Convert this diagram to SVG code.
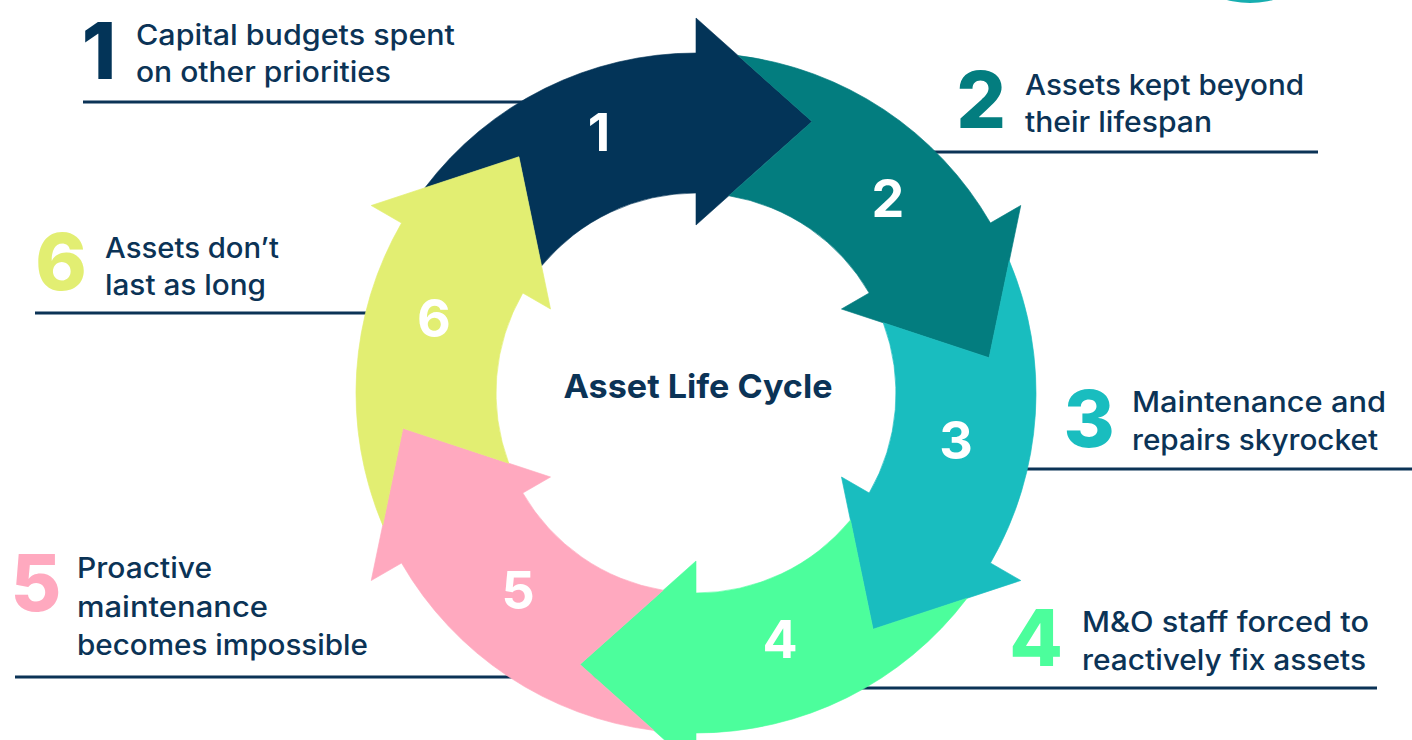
<svg xmlns="http://www.w3.org/2000/svg" xmlns:xlink="http://www.w3.org/1999/xlink" width="1412" height="740" viewBox="0 0 1412 740">
  <style>
    .lbl { font-family: Inter, "Open Sans", "Liberation Sans", sans-serif; font-size: 28px; font-weight: 500; fill: #0B3356; }
    .big { font-family: Inter, "Open Sans", "Liberation Sans", sans-serif; font-size: 78px; font-weight: 800; text-anchor: middle; }
    .num { font-family: Inter, "Open Sans", "Liberation Sans", sans-serif; font-size: 52px; font-weight: 700; fill: #FFFFFF; text-anchor: middle; }
    .title { font-family: Inter, "Open Sans", "Liberation Sans", sans-serif; font-size: 33px; font-weight: 700; fill: #0B3356; text-anchor: middle; }
    .lead { stroke: #0B3356; stroke-width: 3; fill: none; }
    .arrow { stroke-width: 0.6; stroke-linejoin: miter; }
  </style>
  <defs>
    <path id="arrowShape" d="M -271.09 -205.21 A 340 340 0 0 1 0 -340 L 0 -375 L 116 -271.5 L 0 -168 L 0 -200 A 200 200 0 0 0 -154.44 -127.06 L -177.03 -236.21 Z"/>
  </defs>
  <rect width="1412" height="740" fill="#FFFFFF"/>
  <circle cx="1250" cy="-87" r="90" fill="#17AEB0"/>

  <g id="connectors">
    <line class="lead" x1="83" y1="102" x2="600" y2="102"/>
    <line class="lead" x1="900" y1="152" x2="1318" y2="152"/>
    <line class="lead" x1="950" y1="469" x2="1412" y2="469"/>
    <line class="lead" x1="800" y1="688" x2="1377" y2="688"/>
    <line class="lead" x1="15" y1="677" x2="600" y2="677"/>
    <line class="lead" x1="35" y1="313" x2="420" y2="313"/>
  </g>

  <g id="step1">
    <use xlink:href="#arrowShape" class="arrow" fill="#033458" stroke="#033458" transform="translate(696 393) rotate(0)"/>
    <text class="num" x="599" y="151">1</text>
  </g>
  <g id="step2">
    <use xlink:href="#arrowShape" class="arrow" fill="#037D7F" stroke="#037D7F" transform="translate(696 393) rotate(60)"/>
    <text class="num" x="888" y="217">2</text>
  </g>
  <g id="step3">
    <use xlink:href="#arrowShape" class="arrow" fill="#19BDBF" stroke="#19BDBF" transform="translate(696 393) rotate(120)"/>
    <text class="num" x="956" y="459">3</text>
  </g>
  <g id="step4">
    <use xlink:href="#arrowShape" class="arrow" fill="#4CFE9C" stroke="#4CFE9C" transform="translate(696 393) rotate(180)"/>
    <text class="num" x="780" y="658">4</text>
  </g>
  <g id="step5">
    <use xlink:href="#arrowShape" class="arrow" fill="#FFA9BF" stroke="#FFA9BF" transform="translate(696 393) rotate(240)"/>
    <text class="num" x="518" y="609">5</text>
  </g>
  <g id="step6">
    <use xlink:href="#arrowShape" class="arrow" fill="#E2EE72" stroke="#E2EE72" transform="translate(696 393) rotate(300)"/>
    <text class="num" x="434" y="337">6</text>
  </g>

  <g id="center">
    <text class="title" x="698" y="398" textLength="269" lengthAdjust="spacingAndGlyphs">Asset Life Cycle</text>
  </g>

  <g id="label1">
    <text class="big" x="99" y="79" fill="#033458">1</text>
    <text class="lbl" x="136" y="45" textLength="319" lengthAdjust="spacingAndGlyphs">Capital budgets spent</text>
    <text class="lbl" x="136" y="82" textLength="255" lengthAdjust="spacingAndGlyphs">on other priorities</text>
  </g>
  <g id="label2">
    <text class="big" x="981" y="128" fill="#037D7F">2</text>
    <text class="lbl" x="1025" y="95" textLength="279" lengthAdjust="spacingAndGlyphs">Assets kept beyond</text>
    <text class="lbl" x="1025" y="132" textLength="187" lengthAdjust="spacingAndGlyphs">their lifespan</text>
  </g>
  <g id="label3">
    <text class="big" x="1089" y="447" fill="#19BDBF">3</text>
    <text class="lbl" x="1132" y="412" textLength="254" lengthAdjust="spacingAndGlyphs">Maintenance and</text>
    <text class="lbl" x="1132" y="450" textLength="246" lengthAdjust="spacingAndGlyphs">repairs skyrocket</text>
  </g>
  <g id="label4">
    <text class="big" x="1036" y="666" fill="#4CFE9C">4</text>
    <text class="lbl" x="1082" y="632" textLength="287" lengthAdjust="spacingAndGlyphs">M&amp;O staff forced to</text>
    <text class="lbl" x="1082" y="670" textLength="284" lengthAdjust="spacingAndGlyphs">reactively fix assets</text>
  </g>
  <g id="label5">
    <text class="big" x="36" y="611" fill="#FFA9BF">5</text>
    <text class="lbl" x="77" y="578" textLength="135" lengthAdjust="spacingAndGlyphs">Proactive</text>
    <text class="lbl" x="77" y="617" textLength="191" lengthAdjust="spacingAndGlyphs">maintenance</text>
    <text class="lbl" x="77" y="655" textLength="291" lengthAdjust="spacingAndGlyphs">becomes impossible</text>
  </g>
  <g id="label6">
    <text class="big" x="61" y="290" fill="#E2EE72">6</text>
    <text class="lbl" x="105" y="258" textLength="174" lengthAdjust="spacingAndGlyphs">Assets don’t</text>
    <text class="lbl" x="105" y="295" textLength="161" lengthAdjust="spacingAndGlyphs">last as long</text>
  </g>
</svg>
